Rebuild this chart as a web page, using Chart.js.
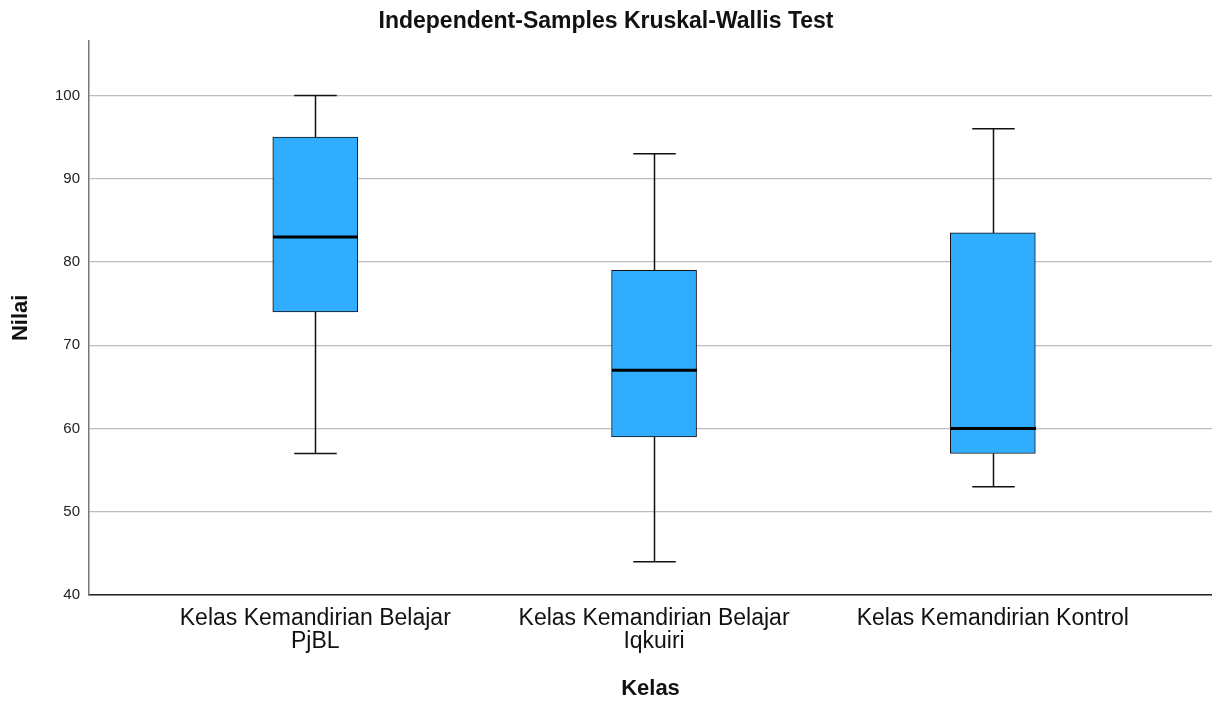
<!DOCTYPE html>
<html>
<head>
<meta charset="utf-8">
<script src="https://cdn.jsdelivr.net/npm/chart.js@4.4.1/dist/chart.umd.min.js"></script>
<style>
  html, body { margin: 0; padding: 0; background: #fff; }
  #wrap { width: 1212px; height: 702px; }
</style>
</head>
<body>
<div id="wrap"><canvas id="myChart" width="1212" height="702"></canvas></div>
<script>
// box plot values
const groups = [
  ['Kelas Kemandirian Belajar', 'PjBL'],
  ['Kelas Kemandirian Belajar', 'Iqkuiri'],
  ['Kelas Kemandirian Kontrol']
];
const mins    = [57, 44, 53];
const q1s     = [74, 59, 57];
const medians = [83, 67, 60];
const q3s     = [95, 79, 83.5];
const maxs    = [100, 93, 96];
const yTicks  = [40, 50, 60, 70, 80, 90, 100];

const FONT = "'Liberation Sans', Arial, Helvetica, sans-serif";
const BOX_W = 85;

// whiskers + median lines, drawn with the chart scales
const boxExtras = {
  id: 'boxExtras',
  afterDatasetsDraw(chart) {
    const { ctx, scales: { x, y } } = chart;
    ctx.save();
    groups.forEach((g, i) => {
      const cx = Math.round(x.getPixelForValue(i)) + 0.5;
      const cap = BOX_W / 4;
      ctx.strokeStyle = '#111';
      ctx.lineWidth = 1.5;
      ctx.beginPath();
      ctx.moveTo(cx, y.getPixelForValue(maxs[i]));
      ctx.lineTo(cx, y.getPixelForValue(q3s[i]));
      ctx.moveTo(cx, y.getPixelForValue(q1s[i]));
      ctx.lineTo(cx, y.getPixelForValue(mins[i]));
      ctx.moveTo(cx - cap, y.getPixelForValue(maxs[i]));
      ctx.lineTo(cx + cap, y.getPixelForValue(maxs[i]));
      ctx.moveTo(cx - cap, y.getPixelForValue(mins[i]));
      ctx.lineTo(cx + cap, y.getPixelForValue(mins[i]));
      ctx.stroke();
      // median
      ctx.lineWidth = 3;
      ctx.strokeStyle = '#000';
      ctx.beginPath();
      ctx.moveTo(cx - BOX_W / 2, y.getPixelForValue(medians[i]));
      ctx.lineTo(cx + BOX_W / 2, y.getPixelForValue(medians[i]));
      ctx.stroke();
    });
    ctx.restore();
  }
};

new Chart(document.getElementById('myChart'), {
  type: 'bar',
  data: {
    datasets: [{
      data: groups.map((g, i) => ({ x: i, y: [q1s[i], q3s[i]] })),
      backgroundColor: '#31adff',
      borderColor: '#111',
      borderWidth: 1,
      borderSkipped: false,
      barThickness: BOX_W
    }]
  },
  options: {
    responsive: false,
    animation: false,
    events: [],
    layout: { padding: 0 },
    plugins: {
      legend: { display: false },
      tooltip: { enabled: false },
      title: {
        display: true,
        text: 'Independent-Samples Kruskal-Wallis Test',
        color: '#111',
        font: { family: FONT, size: 23, weight: 'bold' },
        padding: { top: 8, bottom: 5 }
      }
    },
    scales: {
      x: {
        type: 'linear',
        offset: false,
        min: -0.668,
        max: 2.647,
        afterBuildTicks: (s) => { s.ticks = groups.map((g, i) => ({ value: i })); },
        afterFit: (s) => { s.height = 702 - 595; },
        grid: { display: false, drawTicks: false },
        border: { display: true, color: '#222', width: 1.5 },
        ticks: {
          autoSkip: false,
          maxRotation: 0,
          padding: 12,
          color: '#111',
          font: { family: FONT, size: 23, lineHeight: 1.0 },
          callback: (v) => groups[v]
        },
        title: {
          display: true,
          text: 'Kelas',
          color: '#111',
          font: { family: FONT, size: 22, weight: 'bold' },
          padding: { top: 0, bottom: 0 }
        }
      },
      y: {
        min: 40,
        max: 106.6,
        afterBuildTicks: (s) => { s.ticks = yTicks.map(v => ({ value: v })); },
        afterFit: (s) => { s.width = 89; },
        grid: { color: '#bdbdbd', lineWidth: 1.2, drawTicks: false },
        border: { display: true, color: '#777', width: 1.5 },
        ticks: {
          padding: 9,
          color: '#222',
          font: { family: FONT, size: 15 }
        },
        title: {
          display: true,
          text: 'Nilai',
          color: '#111',
          font: { family: FONT, size: 22, weight: 'bold' },
          padding: { top: 8, bottom: 0 }
        }
      }
    }
  },
  plugins: [boxExtras]
});
</script>
</body>
</html>
